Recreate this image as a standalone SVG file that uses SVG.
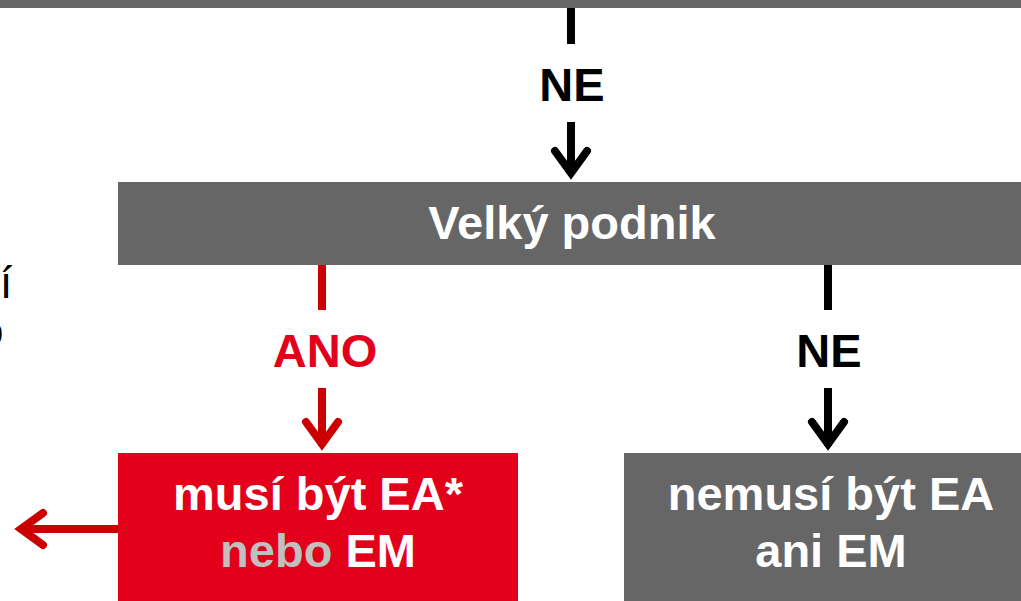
<svg xmlns="http://www.w3.org/2000/svg" width="1021" height="601" viewBox="0 0 1021 601">
  <style>
    .t { font-family: "Liberation Sans", Arial, sans-serif; font-weight: bold; text-anchor: middle; }
    .big { font-size: 47px; }
    .box { font-size: 47px; fill: #ffffff; }
    .blk { stroke: #000000; stroke-width: 8; fill: none; }
    .red { stroke: #cc0000; stroke-width: 8; fill: none; }
    .head { stroke-width: 8; fill: none; stroke-linecap: round; stroke-linejoin: miter; stroke-miterlimit: 10; }
  </style>
  <defs>
    <path id="ah" d="M-16,-30 L0,-8 L16,-30"/>
  </defs>
  <rect width="1021" height="601" fill="#ffffff"/>

  <g id="top-node">
    <rect x="0" y="0" width="1021" height="8" fill="#666666"/>
  </g>

  <g id="left-partial">
    <text x="0" y="298" font-family="Liberation Sans, Arial, sans-serif" font-size="44" fill="#000000">í</text>
    <text x="3.5" y="346" font-family="Liberation Sans, Arial, sans-serif" font-size="44" fill="#000000" text-anchor="end">o</text>
  </g>

  <g id="velky-podnik">
    <rect x="118" y="182" width="903" height="83" fill="#666666"/>
    <text class="t big" x="572" y="239" fill="#ffffff">Velký podnik</text>
  </g>

  <g id="musi-byt">
    <rect x="118" y="453" width="400" height="148" fill="#e2001a"/>
    <text class="t box" x="318" y="510">musí být EA*</text>
    <text class="t box" x="318" y="567"><tspan fill="#c0c0c0">nebo</tspan> EM</text>
  </g>

  <g id="nemusi-byt">
    <rect x="624" y="453" width="397" height="148" fill="#666666"/>
    <text class="t box" x="831" y="510">nemusí být EA</text>
    <text class="t box" x="831" y="567">ani EM</text>
  </g>

  <g id="connectors">
    <!-- top to Velky podnik -->
    <line class="blk" x1="571" y1="8" x2="571" y2="44"/>
    <text class="t big" x="572" y="101" fill="#000000">NE</text>
    <line class="blk" x1="571" y1="122" x2="571" y2="174"/>
    <use href="#ah" class="head" stroke="#000000" transform="translate(571,181)"/>

    <!-- ANO branch -->
    <line class="red" x1="322" y1="265" x2="322" y2="310"/>
    <text class="t big" x="325" y="367" fill="#e2001a">ANO</text>
    <line class="red" x1="322" y1="388" x2="322" y2="446"/>
    <use href="#ah" class="head" stroke="#cc0000" transform="translate(322,452)"/>

    <!-- NE branch -->
    <line class="blk" x1="828" y1="265" x2="828" y2="310"/>
    <text class="t big" x="829" y="367" fill="#000000">NE</text>
    <line class="blk" x1="828" y1="388" x2="828" y2="446"/>
    <use href="#ah" class="head" stroke="#000000" transform="translate(828,452)"/>

    <!-- left arrow from red box -->
    <line class="red" x1="118" y1="529" x2="20" y2="529"/>
    <use href="#ah" class="head" stroke="#cc0000" transform="translate(13,529) rotate(90)"/>
  </g>
</svg>
